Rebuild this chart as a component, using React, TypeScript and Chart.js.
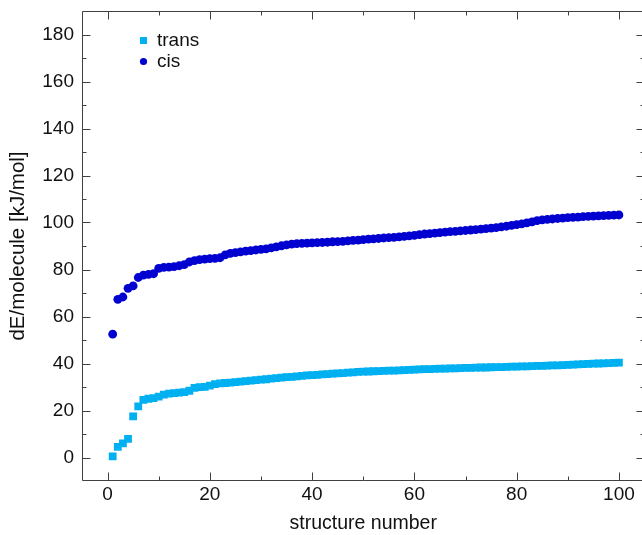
import React, { useEffect, useRef } from 'react';
import { Chart, registerables } from 'chart.js';

Chart.register(...registerables);

// ---- data ----
const seriesNames = ['trans', 'cis'];
const seriesColors = ['#00B0F0', '#0000D0'];

const transValues = [
  0.5, 4.5, 6.0, 7.9, 17.5, 21.8, 24.5, 25.0, 25.3, 25.9,
  26.8, 27.2, 27.4, 27.6, 27.8, 28.4, 29.6, 29.9, 30.1, 30.6,
  31.2, 31.5, 31.7, 31.9, 32.1, 32.3, 32.5, 32.7, 32.9, 33.1,
  33.3, 33.6, 33.8, 34.0, 34.2, 34.3, 34.5, 34.7, 34.9, 35.1,
  35.2, 35.4, 35.5, 35.7, 35.8, 35.9, 36.1, 36.2, 36.4, 36.5,
  36.6, 36.7, 36.8, 36.9, 37.0, 37.0, 37.1, 37.2, 37.3, 37.4,
  37.5, 37.6, 37.6, 37.7, 37.8, 37.8, 37.9, 37.9, 38.0, 38.1,
  38.1, 38.2, 38.3, 38.3, 38.4, 38.5, 38.5, 38.6, 38.7, 38.7,
  38.8, 38.8, 38.9, 39.0, 39.0, 39.1, 39.2, 39.2, 39.3, 39.4,
  39.5, 39.6, 39.7, 39.8, 39.9, 40.0, 40.1, 40.2, 40.3, 40.4,
];

const cisValues = [
  52.5, 67.3, 68.3, 72.0, 73.0, 76.6, 77.6, 77.9, 78.2, 80.5,
  80.9, 81.0, 81.2, 81.6, 82.1, 83.2, 83.8, 84.2, 84.4, 84.6,
  84.7, 85.0, 86.2, 86.9, 87.2, 87.5, 87.8, 88.0, 88.3, 88.6,
  88.8, 89.2, 89.6, 90.1, 90.5, 90.8, 91.0, 91.1, 91.2, 91.3,
  91.4, 91.5, 91.6, 91.8, 91.9, 92.0, 92.2, 92.4, 92.5, 92.7,
  92.9, 93.0, 93.2, 93.4, 93.6, 93.7, 93.9, 94.1, 94.3, 94.5,
  94.8, 95.1, 95.3, 95.5, 95.7, 95.9, 96.1, 96.2, 96.4, 96.6,
  96.8, 97.0, 97.2, 97.4, 97.6, 97.8, 98.1, 98.4, 98.8, 99.1,
  99.4, 99.8, 100.3, 100.8, 101.1, 101.3, 101.5, 101.7, 101.9, 102.1,
  102.2, 102.3, 102.5, 102.6, 102.7, 102.8, 102.9, 103.0, 103.1, 103.2,
];

const xTicks = [0, 20, 40, 60, 80, 100];
const xMinorTicks = [10, 30, 50, 70, 90];
const yTicks = [0, 20, 40, 60, 80, 100, 120, 140, 160, 180];
const yMinorTicks = [10, 30, 50, 70, 90, 110, 130, 150, 170];
const xRange = [-5, 105];
const yRange = [-10, 190];
const xTitle = 'structure number';
const yTitle = 'dE/molecule [kJ/mol]';

const FONT = "'Liberation Sans', Arial, sans-serif";

const zeroPadding = (s: any) => {
  s.paddingTop = 0;
  s.paddingBottom = 0;
  s.paddingLeft = 0;
  s.paddingRight = 0;
};

const frameTicksPlugin = {
  id: 'frameTicks',
  afterDatasetsDraw(chart: any) {
    const { ctx, chartArea: a, scales } = chart;
    const x = scales.x;
    const y = scales.y;
    ctx.save();
    ctx.strokeStyle = '#404040';
    ctx.lineWidth = 1;
    const L = Math.round(a.left) + 0.5;
    const R = Math.round(a.right) - 0.5;
    const T = Math.round(a.top) + 0.5;
    const B = Math.round(a.bottom) - 0.5;
    ctx.beginPath();
    ctx.moveTo(L, T); ctx.lineTo(R, T); ctx.lineTo(R, B); ctx.lineTo(L, B); ctx.closePath();
    const xt = (v: number, len: number) => {
      const p = Math.round(x.getPixelForValue(v)) + 0.5;
      ctx.moveTo(p, B); ctx.lineTo(p, B - len);
      ctx.moveTo(p, T); ctx.lineTo(p, T + len);
    };
    const yt = (v: number, len: number) => {
      const p = Math.round(y.getPixelForValue(v)) + 0.5;
      ctx.moveTo(L, p); ctx.lineTo(L + len, p);
      ctx.moveTo(R, p); ctx.lineTo(R - len, p);
    };
    xTicks.forEach((v) => xt(v, 8));
    xMinorTicks.forEach((v) => xt(v, 4));
    yTicks.forEach((v) => yt(v, 8));
    yMinorTicks.forEach((v) => yt(v, 4));
    ctx.stroke();
    ctx.restore();
  },
};

const legendPlugin = {
  id: 'insideLegend',
  afterDraw(chart: any) {
    const { ctx, chartArea: a } = chart;
    ctx.save();
    ctx.font = `19px ${FONT}`;
    ctx.textBaseline = 'middle';
    ctx.textAlign = 'left';
    const mx = a.left + 61.5;
    const tx = a.left + 75;
    // trans (square)
    const y1 = a.top + 29.5;
    ctx.fillStyle = seriesColors[0];
    ctx.fillRect(mx - 3.5, y1 - 3.5, 7, 7);
    ctx.fillStyle = '#111';
    ctx.fillText(seriesNames[0], tx, y1);
    // cis (circle)
    const y2 = a.top + 50.5;
    ctx.fillStyle = seriesColors[1];
    ctx.beginPath();
    ctx.arc(mx, y2, 3.6, 0, Math.PI * 2);
    ctx.fill();
    ctx.fillStyle = '#111';
    ctx.fillText(seriesNames[1], tx, y2);
    ctx.restore();
  },
};

export default function App() {
  const ref = useRef<HTMLCanvasElement | null>(null);

  useEffect(() => {
    if (!ref.current) return;
    const chart = new Chart(ref.current, {
      type: 'scatter',
      data: {
        datasets: [
          {
            label: seriesNames[0],
            data: transValues.map((v, i) => ({ x: i + 1, y: v })),
            pointStyle: 'rect',
            pointRadius: 5.5,
            pointHoverRadius: 5.5,
            pointBackgroundColor: seriesColors[0],
            pointBorderWidth: 0,
            backgroundColor: seriesColors[0],
            borderColor: seriesColors[0],
            showLine: false,
          },
          {
            label: seriesNames[1],
            data: cisValues.map((v, i) => ({ x: i + 1, y: v })),
            pointStyle: 'circle',
            pointRadius: 4.4,
            pointHoverRadius: 4.4,
            pointBackgroundColor: seriesColors[1],
            pointBorderWidth: 0,
            backgroundColor: seriesColors[1],
            borderColor: seriesColors[1],
            showLine: false,
          },
        ],
      },
      options: {
        responsive: false,
        animation: false,
        events: [],
        layout: { padding: { top: 11, right: 4, left: 0, bottom: 0 } },
        plugins: {
          legend: { display: false },
          tooltip: { enabled: false },
        },
        scales: {
          x: {
            type: 'linear',
            min: xRange[0],
            max: xRange[1],
            grid: { display: false, drawTicks: false },
            border: { display: false },
            afterBuildTicks: (s: any) => {
              s.ticks = xTicks.map((v) => ({ value: v }));
            },
            afterFit: (s: any) => {
              s.height = 54;
              zeroPadding(s);
            },
            ticks: {
              padding: 2,
              color: '#111',
              font: { family: FONT, size: 19 },
              maxRotation: 0,
              autoSkip: false,
            },
            title: {
              display: true,
              text: xTitle,
              color: '#111',
              font: { family: FONT, size: 19.5 },
              padding: { top: 0, bottom: 0 },
            },
          },
          y: {
            type: 'linear',
            min: yRange[0],
            max: yRange[1],
            grid: { display: false, drawTicks: false },
            border: { display: false },
            afterBuildTicks: (s: any) => {
              s.ticks = yTicks.map((v) => ({ value: v }));
            },
            afterFit: (s: any) => {
              s.width = 82;
              zeroPadding(s);
            },
            ticks: {
              padding: 8,
              color: '#111',
              font: { family: FONT, size: 19 },
              autoSkip: false,
            },
            title: {
              display: true,
              text: yTitle,
              color: '#111',
              font: { family: FONT, size: 20.5 },
              padding: { top: 6, bottom: 0 },
            },
          },
        },
      },
      plugins: [frameTicksPlugin, legendPlugin],
    } as any);
    return () => chart.destroy();
  }, []);

  return (
    <div
      style={{
        position: 'absolute',
        left: 0,
        top: 0,
        width: 642,
        height: 535,
        overflow: 'hidden',
        background: '#fff',
      }}
    >
      <canvas ref={ref} width={650} height={535} style={{ display: 'block' }} />
    </div>
  );
}
